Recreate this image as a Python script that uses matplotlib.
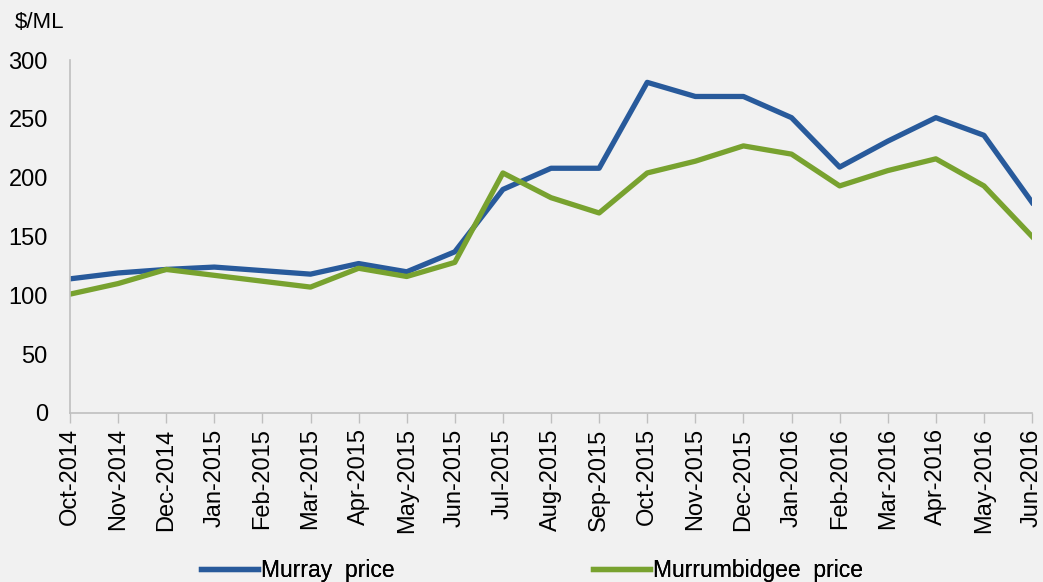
import numpy as np
import matplotlib.pyplot as plt
from matplotlib import font_manager

plt.rcParams['font.family'] = ['Liberation Sans', 'DejaVu Sans']

meses = ['Oct-2014', 'Nov-2014', 'Dec-2014', 'Jan-2015', 'Feb-2015', 'Mar-2015',
         'Apr-2015', 'May-2015', 'Jun-2015', 'Jul-2015', 'Aug-2015', 'Sep-2015',
         'Oct-2015', 'Nov-2015', 'Dec-2015', 'Jan-2016', 'Feb-2016', 'Mar-2016',
         'Apr-2016', 'May-2016', 'Jun-2016']
murray = [114, 119, 122, 124, 121, 118, 127, 120, 137, 190, 208, 208,
          281, 269, 269, 251, 209, 231, 251, 236, 179]
murrumbidgee = [101, 110, 122, 117, 112, 107, 123, 116, 128, 204, 183, 170,
                204, 214, 227, 220, 193, 206, 216, 193, 150]

# fonte estreita para a legenda, se existir
nomes = {f.name for f in font_manager.fontManager.ttflist}
if 'Liberation Sans Narrow' in nomes:
    fonte_leg, tam_leg = 'Liberation Sans Narrow', 20
else:
    fonte_leg, tam_leg = 'Liberation Sans', 16.5

fundo = '#f1f1f1'
fig = plt.figure(figsize=(10.43, 5.82), dpi=100, facecolor=fundo)
ax = fig.add_axes([0.0671, 0.2904, 0.9224, 0.6065], facecolor=fundo)

x = np.arange(len(meses))
l1, = ax.plot(x, murray, color='#285a9b', linewidth=3.8, solid_joinstyle='round')
l2, = ax.plot(x, murrumbidgee, color='#78a22f', linewidth=3.8, solid_joinstyle='round')

ax.set_xlim(0, len(meses) - 1)
ax.set_ylim(0, 300)
ax.set_yticks(range(0, 301, 50))
ax.set_xticks(x)
ax.set_xticklabels(meses, rotation=90, fontsize=17)
ax.tick_params(axis='y', length=0, labelsize=17, pad=16)
ax.tick_params(axis='x', length=7, width=1, color='#bfbfbf', pad=4)

for lado in ['top', 'right']:
    ax.spines[lado].set_visible(False)
for lado in ['left', 'bottom']:
    ax.spines[lado].set_color('#bfbfbf')
    ax.spines[lado].set_linewidth(1.2)

fig.text(0.014, 0.962, '$/ML', fontsize=16, va='center', ha='left')

# duas legendas separadas, como no original
prop = {'family': [fonte_leg, 'DejaVu Sans'], 'size': tam_leg}
em = tam_leg * 100 / 72
for linha, nome, xpos in [(l1, 'Murray  price', 0.193), (l2, 'Murrumbidgee  price', 0.569)]:
    leg = fig.legend([linha], [nome], loc='center left', bbox_to_anchor=(xpos, 0.02),
                     frameon=False, borderpad=0, borderaxespad=0,
                     handlelength=57 / em, handletextpad=0.1, prop=prop)
    fig.add_artist(leg)

fig.savefig('out.png', dpi=100, facecolor=fundo)
